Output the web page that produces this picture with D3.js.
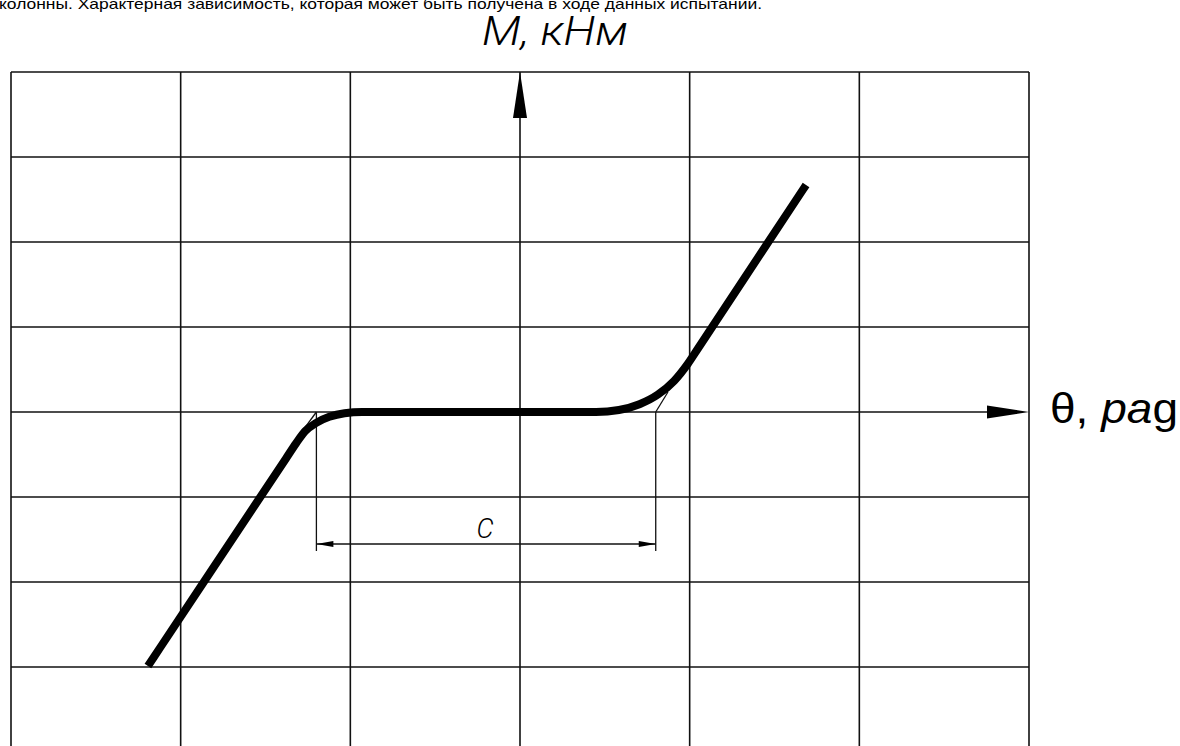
<!DOCTYPE html>
<html>
<head>
<meta charset="utf-8">
<script src="https://cdn.jsdelivr.net/npm/d3@7"></script>
<style>
  body { margin: 0; background: #fff; }
  svg { display: block; }
  .grid line { stroke: #111; stroke-width: 1.6px; }
  .thin { stroke: #111; stroke-width: 1.3px; fill: none; }
  .draft { font-family: Roboto, 'DejaVu Sans', sans-serif; font-weight: 300; font-style: italic; }
</style>
</head>
<body>
<svg width="1180" height="746"></svg>
<script>
// grid divisions (in cells), theta horizontally, M vertically
var thetaTicks = [-3, -2, -1, 0, 1, 2, 3];
var mTicks = [-4, -3, -2, -1, 0, 1, 2, 3, 4];

// the M(theta) curve in grid cells
var curveTheta = [-2.193, -2.12, -1.38, -1.32, -1.267, -1.201, -1.124, -1.034, -0.931, 0.448, 0.583, 0.704, 0.813, 0.908, 0.990, 1.05, 1.62, 1.686];
var curveM     = [-2.988, -2.769, -0.549, -0.369, -0.227, -0.128, -0.057, -0.014, 0, 0, 0.023, 0.091, 0.205, 0.365, 0.569, 0.750, 2.472, 2.671];

// knees of the straight branches (ends of dimension C) and the tangent stubs
var kneeTheta = [-1.2, 0.8];
var stubTheta = [-1.285, 0.872];
var stubM = [-0.232, 0.235];
var dimM = -1.553;      // level of the dimension line
var extM = -1.635;      // bottom of the extension lines

var svg = d3.select("svg"),
    width = +svg.attr("width"),
    height = +svg.attr("height");

var x = d3.scaleLinear().domain([-3, 3]).range([11, 1029]),
    y = d3.scaleLinear().domain([-4, 4]).range([752, 72]);

// top line of the text, cut by the page edge
svg.append("text")
    .attr("x", -1)
    .attr("y", 9)
    .attr("textLength", 763)
    .attr("lengthAdjust", "spacingAndGlyphs")
    .style("font", "15px 'Liberation Sans', Arial, sans-serif")
    .text("колонны. Характерная зависимость, которая может быть получена в ходе данных испытаний.");

// grid
var grid = svg.append("g").attr("class", "grid");

grid.selectAll(".v")
    .data(thetaTicks)
    .enter().append("line")
    .attr("class", "v")
    .attr("x1", function(d) { return x(d); })
    .attr("x2", function(d) { return x(d); })
    .attr("y1", y(4))
    .attr("y2", y(-4));

grid.selectAll(".h")
    .data(mTicks)
    .enter().append("line")
    .attr("class", "h")
    .attr("x1", x(-3))
    .attr("x2", function(d) { return d === 0 ? x(3) - 40 : x(3); })
    .attr("y1", function(d) { return y(d); })
    .attr("y2", function(d) { return y(d); });

// axis arrows
svg.append("path")
    .attr("d", "M" + x(0) + "," + y(4) + "L" + (x(0) - 7) + "," + (y(4) + 46) + "L" + (x(0) + 7) + "," + (y(4) + 46) + "Z")
    .attr("fill", "#000");

svg.append("path")
    .attr("d", "M" + x(3) + "," + y(0) + "L" + (x(3) - 42) + "," + (y(0) - 6.5) + "L" + (x(3) - 42) + "," + (y(0) + 6.5) + "Z")
    .attr("fill", "#000");

// axis labels
svg.append("text")
    .attr("class", "draft")
    .attr("x", 482)
    .attr("y", 45)
    .attr("textLength", 146)
    .attr("lengthAdjust", "spacingAndGlyphs")
    .style("font-size", "40px")
    .text("M, кНм");

var thLabel = svg.append("text")
    .attr("x", 1050)
    .attr("y", 423)
    .attr("textLength", 128)
    .attr("lengthAdjust", "spacingAndGlyphs")
    .style("font-family", "'Liberation Sans', Arial, sans-serif")
    .style("font-size", "42px");
thLabel.append("tspan").text("θ, ");
thLabel.append("tspan").style("font-style", "italic").text("ра");
thLabel.append("tspan").text("g");

// tangent stubs at the knees
svg.selectAll(".stub")
    .data(kneeTheta)
    .enter().append("line")
    .attr("class", "thin stub")
    .attr("x1", function(d) { return x(d); })
    .attr("y1", y(0))
    .attr("x2", function(d, i) { return x(stubTheta[i]); })
    .attr("y2", function(d, i) { return y(stubM[i]); });

// extension lines of dimension C
svg.selectAll(".ext")
    .data(kneeTheta)
    .enter().append("line")
    .attr("class", "thin ext")
    .attr("x1", function(d) { return x(d); })
    .attr("x2", function(d) { return x(d); })
    .attr("y1", y(0))
    .attr("y2", y(extM));

// dimension line with arrows pointing at the extension lines
svg.append("line")
    .attr("class", "thin")
    .attr("x1", x(kneeTheta[0]))
    .attr("x2", x(kneeTheta[1]))
    .attr("y1", y(dimM))
    .attr("y2", y(dimM));

svg.selectAll(".dimarrow")
    .data(kneeTheta)
    .enter().append("path")
    .attr("class", "dimarrow")
    .attr("fill", "#000")
    .attr("d", function(d, i) {
        var tip = x(d), dir = i === 0 ? 1 : -1, yy = y(dimM);
        return "M" + tip + "," + yy + "L" + (tip + dir * 17) + "," + (yy - 3) + "L" + (tip + dir * 17) + "," + (yy + 3) + "Z";
    });

svg.append("text")
    .attr("class", "draft")
    .attr("x", (x(kneeTheta[0]) + x(kneeTheta[1])) / 2 - 1)
    .attr("y", y(dimM) - 6)
    .attr("text-anchor", "middle")
    .style("font-size", "27px")
    .text("C");

// the curve itself
var pts = curveTheta.map(function(t, i) { return {theta: t, m: curveM[i]}; });

var line = d3.line()
    .curve(d3.curveMonotoneX)
    .x(function(d) { return x(d.theta); })
    .y(function(d) { return y(d.m); });

svg.append("path")
    .datum(pts)
    .attr("d", line)
    .attr("fill", "none")
    .attr("stroke", "#000")
    .attr("stroke-width", 8)
    .attr("stroke-linecap", "butt")
    .attr("stroke-linejoin", "round");
</script>
</body>
</html>
